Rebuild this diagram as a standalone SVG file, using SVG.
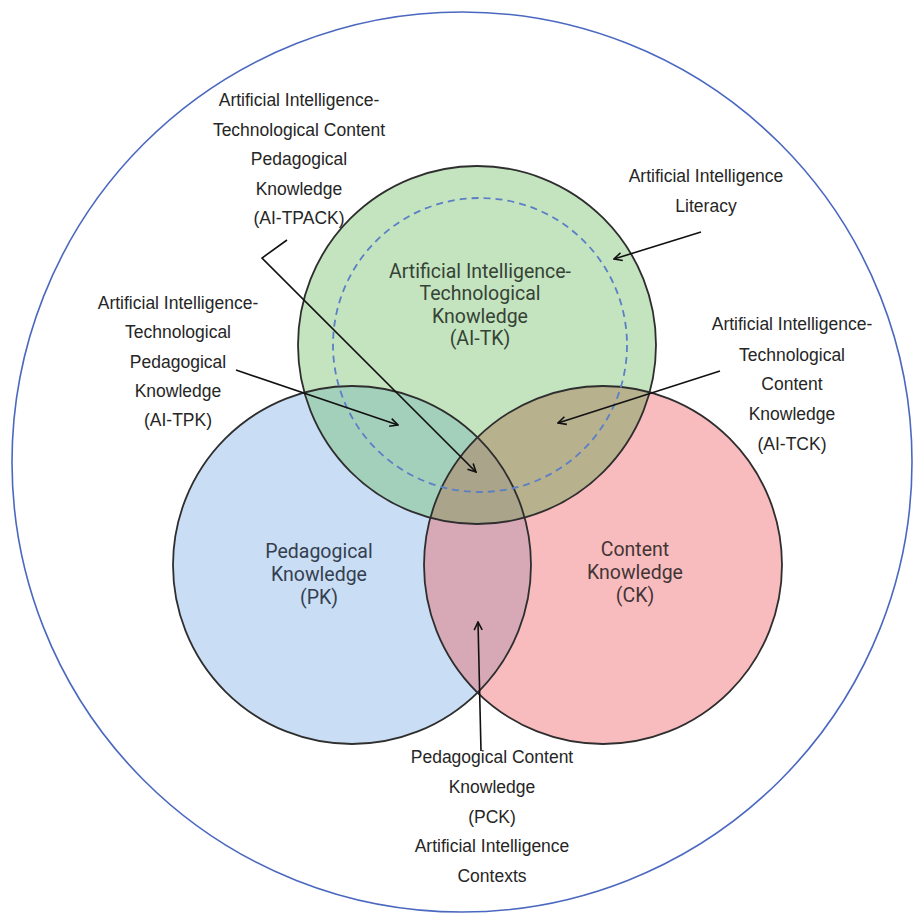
<svg xmlns="http://www.w3.org/2000/svg" width="913" height="913" viewBox="0 0 913 913">
  <style>
    .ring { fill: none; stroke: #2e2e2e; stroke-width: 1.8; }
    .lbl { font-family: "Liberation Sans", Arial, sans-serif; font-size: 17.5px; fill: #262626; text-anchor: middle; }
    .inner { font-family: Roboto, "Liberation Sans", sans-serif; font-size: 19.5px; font-weight: normal; text-anchor: middle; }
    .arrow { fill: none; stroke: #111; stroke-width: 1.6; marker-end: url(#ah); }
  </style>
  <defs>
    <marker id="ah" viewBox="0 0 10 10" refX="9" refY="5" markerWidth="10" markerHeight="10" markerUnits="userSpaceOnUse" orient="auto">
      <path d="M1,1 L9,5 L1,9" fill="none" stroke="#111" stroke-width="1.6"/>
    </marker>
    <clipPath id="cB"><circle cx="352" cy="565" r="179"/></clipPath>
    <clipPath id="cR"><circle cx="603" cy="565" r="179"/></clipPath>
    <clipPath id="cG"><circle cx="477" cy="345" r="179"/></clipPath>
  </defs>

  <rect width="913" height="913" fill="#ffffff"/>

  <g id="ai-contexts-boundary">
    <circle cx="462" cy="462" r="450" fill="none" stroke="#4b68c0" stroke-width="1.6"/>
  </g>

  <g id="region-fills">
    <circle cx="352" cy="565" r="179" fill="#c9ddf5"/>
    <circle cx="603" cy="565" r="179" fill="#f8bcbf"/>
    <circle cx="477" cy="345" r="179" fill="#c4e3bf"/>
    <circle cx="603" cy="565" r="179" fill="#d7a9b7" clip-path="url(#cB)"/>
    <circle cx="477" cy="345" r="179" fill="#a3d0bb" clip-path="url(#cB)"/>
    <circle cx="477" cy="345" r="179" fill="#b8b18e" clip-path="url(#cR)"/>
    <g clip-path="url(#cB)">
      <circle cx="603" cy="565" r="179" fill="#a9a48a" clip-path="url(#cG)"/>
    </g>
  </g>

  <g id="node-pk">
    <circle class="ring" cx="352" cy="565" r="179"/>
    <text class="inner" fill="#34404f"><tspan x="319" y="558">Pedagogical</tspan><tspan x="319" y="581">Knowledge</tspan><tspan x="319" y="604">(PK)</tspan></text>
  </g>

  <g id="node-ck">
    <circle class="ring" cx="603" cy="565" r="179"/>
    <text class="inner" fill="#443535"><tspan x="635" y="556">Content</tspan><tspan x="635" y="579">Knowledge</tspan><tspan x="635" y="602">(CK)</tspan></text>
  </g>

  <g id="node-ai-tk">
    <circle class="ring" cx="477" cy="345" r="179" stroke="#2b352b"/>
    <text class="inner" fill="#354335"><tspan x="480" y="278">Artificial Intelligence-</tspan><tspan x="480" y="300">Technological</tspan><tspan x="480" y="323">Knowledge</tspan><tspan x="480" y="345">(AI-TK)</tspan></text>
  </g>

  <g id="node-ai-literacy">
    <circle cx="480" cy="345" r="147" fill="none" stroke="#5b7fc6" stroke-width="1.8" stroke-dasharray="7 5"/>
  </g>

  <g id="label-ai-tpack">
    <text class="lbl"><tspan x="299" y="106">Artificial Intelligence-</tspan><tspan x="299" y="136">Technological Content</tspan><tspan x="299" y="165">Pedagogical</tspan><tspan x="299" y="195">Knowledge</tspan><tspan x="299" y="224">(AI-TPACK)</tspan></text>
  </g>

  <g id="label-ai-literacy">
    <text class="lbl"><tspan x="706" y="182">Artificial Intelligence</tspan><tspan x="706" y="212">Literacy</tspan></text>
  </g>

  <g id="label-ai-tpk">
    <text class="lbl"><tspan x="178" y="309">Artificial Intelligence-</tspan><tspan x="178" y="338">Technological</tspan><tspan x="178" y="368">Pedagogical</tspan><tspan x="178" y="397">Knowledge</tspan><tspan x="178" y="426">(AI-TPK)</tspan></text>
  </g>

  <g id="label-ai-tck">
    <text class="lbl"><tspan x="792" y="330">Artificial Intelligence-</tspan><tspan x="792" y="361">Technological</tspan><tspan x="792" y="390">Content</tspan><tspan x="792" y="420">Knowledge</tspan><tspan x="792" y="450">(AI-TCK)</tspan></text>
  </g>

  <g id="label-pck">
    <text class="lbl"><tspan x="492" y="763">Pedagogical Content</tspan><tspan x="492" y="793">Knowledge</tspan><tspan x="492" y="823">(PCK)</tspan><tspan x="492" y="852">Artificial Intelligence</tspan><tspan x="492" y="882">Contexts</tspan></text>
  </g>

  <g id="connectors">
    <polyline class="arrow" points="287,240 262,258 476,472"/>
    <line class="arrow" x1="701" y1="232" x2="614" y2="259"/>
    <line class="arrow" x1="236" y1="370" x2="398" y2="425"/>
    <line class="arrow" x1="720" y1="371" x2="558" y2="423"/>
    <line class="arrow" x1="481" y1="751" x2="478" y2="622"/>
  </g>
</svg>
